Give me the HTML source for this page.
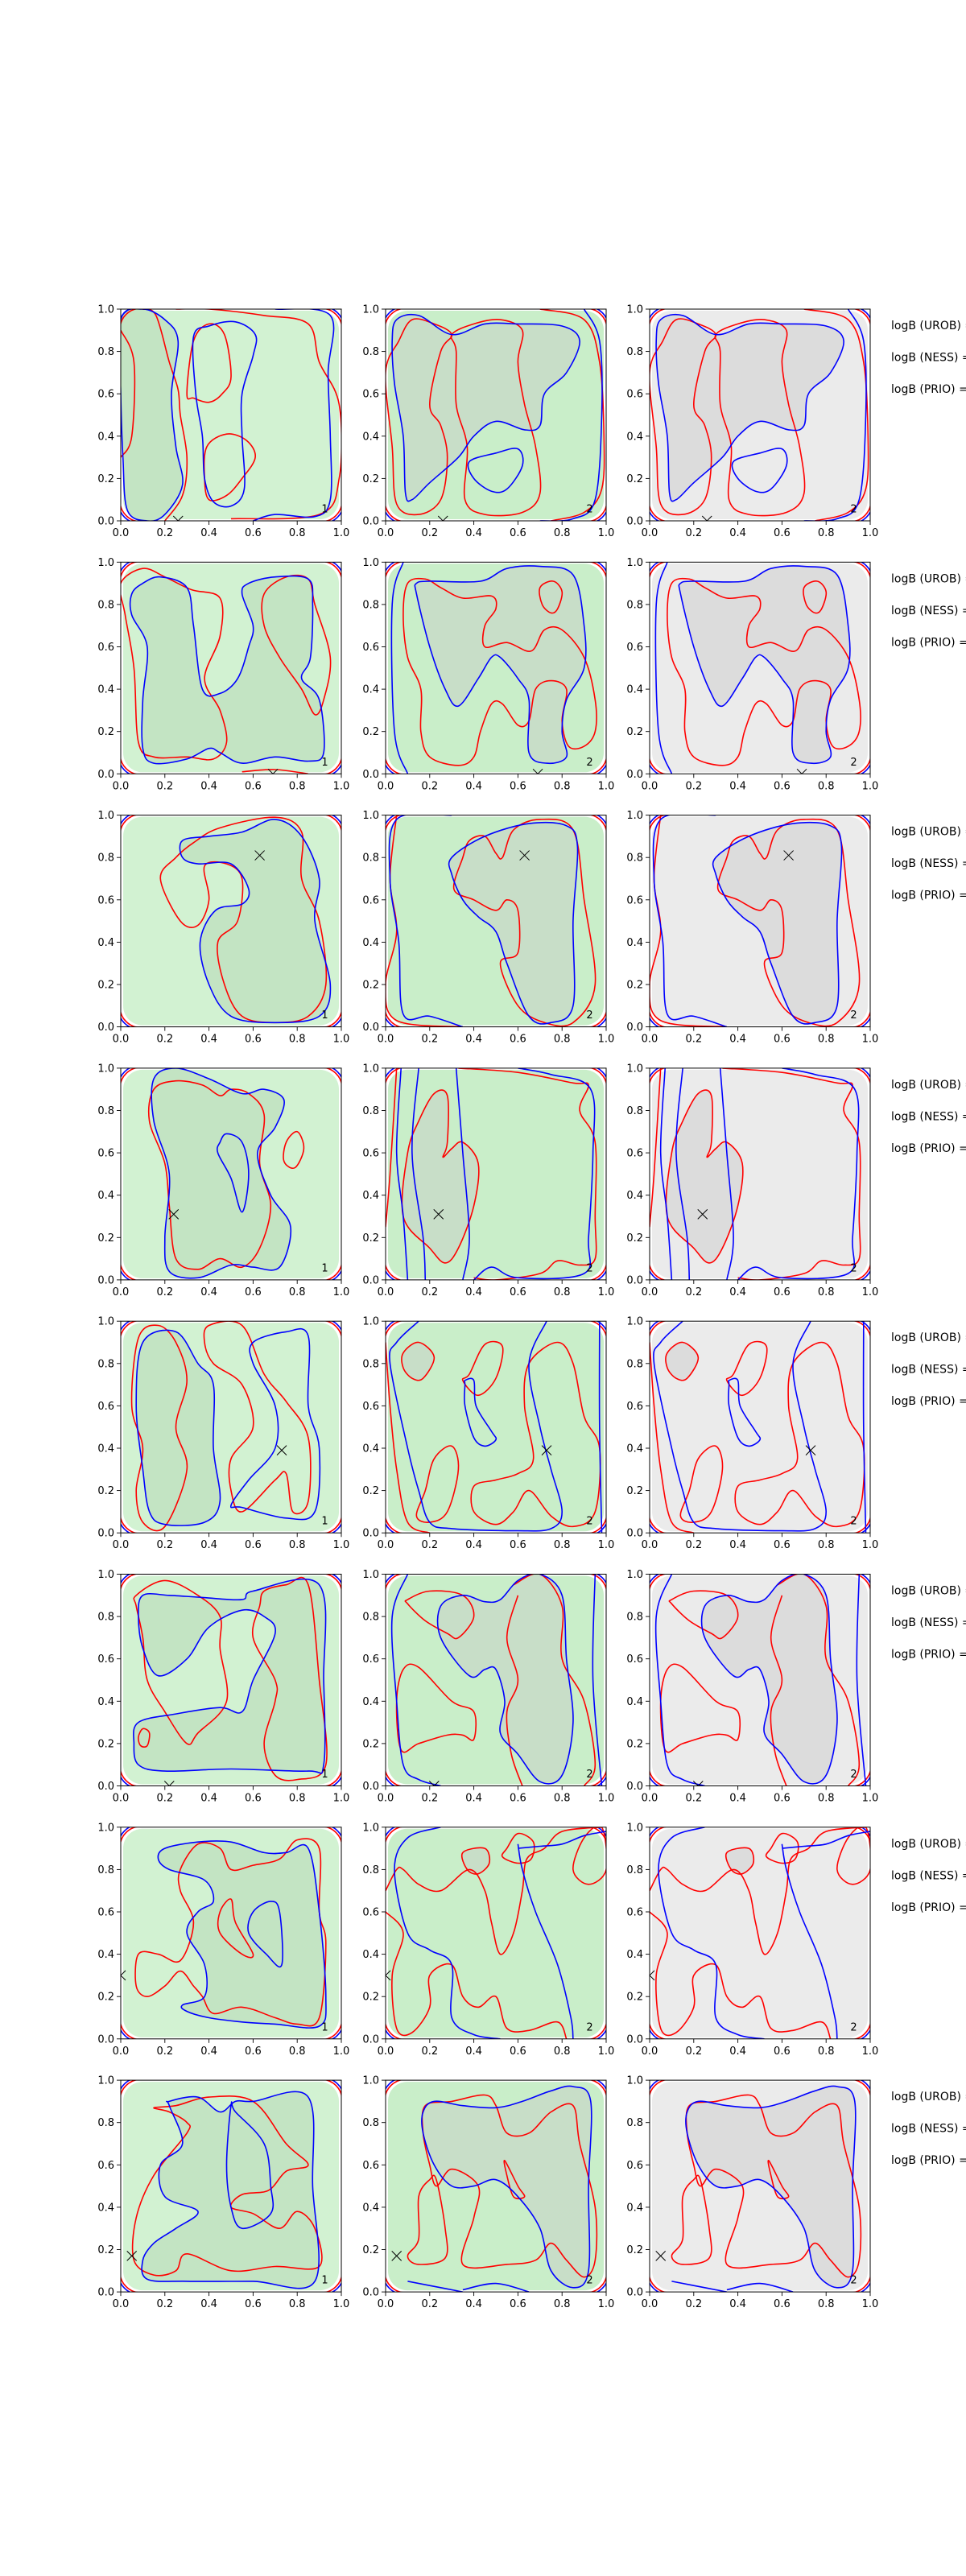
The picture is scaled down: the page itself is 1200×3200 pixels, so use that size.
<!DOCTYPE html>
<html><head><meta charset="utf-8"><style>
html,body{margin:0;padding:0;background:#fff;}
svg{display:block;font-family:"DejaVu Sans","Liberation Sans",sans-serif;}
</style></head><body>
<svg id="fig" width="1200" height="3200" viewBox="0 0 1200 3200" xmlns="http://www.w3.org/2000/svg"></svg>
<script>
// ---- data: contour loops per row, in data coords (0..1). 'o' = open, 'c' = closed ----
const c1Blue = [
 [['c',[0,0.95],[0.1,1],[0.2,0.95],[0.26,0.85],[0.23,0.6],[0.25,0.35],[0.28,0.17],[0.2,0.03],[0.12,0],[0.03,0.05],[0.01,0.3],[0,0.6]],
  ['c',[0.33,0.87],[0.4,0.92],[0.52,0.94],[0.61,0.88],[0.6,0.78],[0.55,0.6],[0.55,0.4],[0.56,0.15],[0.5,0.07],[0.42,0.09],[0.38,0.2],[0.37,0.4],[0.34,0.6]],
  ['o',[0.7,1],[0.95,0.97],[0.94,0.7],[0.95,0.4],[0.95,0.1],[0.88,0.02],[0.7,0.03],[0.6,0]]],
 [['c',[0.1,0.9],[0.18,0.93],[0.3,0.88],[0.33,0.7],[0.37,0.4],[0.45,0.38],[0.53,0.45],[0.58,0.6],[0.6,0.7],[0.55,0.85],[0.58,0.9],[0.7,0.93],[0.85,0.92],[0.87,0.8],[0.86,0.55],[0.82,0.45],[0.9,0.35],[0.92,0.1],[0.85,0.06],[0.7,0.08],[0.55,0.05],[0.45,0.1],[0.4,0.12],[0.3,0.07],[0.15,0.05],[0.1,0.12],[0.1,0.35],[0.12,0.6],[0.05,0.75],[0.05,0.85]]],
 [['c',[0.28,0.88],[0.4,0.9],[0.55,0.92],[0.7,0.98],[0.82,0.9],[0.9,0.7],[0.88,0.5],[0.95,0.2],[0.9,0.05],[0.7,0.02],[0.5,0.05],[0.4,0.2],[0.36,0.4],[0.43,0.55],[0.55,0.58],[0.58,0.65],[0.5,0.77],[0.35,0.77],[0.28,0.8]]],
 [['c',[0.15,0.95],[0.25,1],[0.4,0.95],[0.55,0.88],[0.65,0.9],[0.74,0.85],[0.7,0.72],[0.62,0.6],[0.68,0.4],[0.77,0.25],[0.72,0.06],[0.6,0.06],[0.5,0.07],[0.35,0.01],[0.22,0.04],[0.2,0.2],[0.22,0.5],[0.15,0.75]],
  ['c',[0.45,0.65],[0.48,0.69],[0.55,0.65],[0.58,0.5],[0.55,0.32],[0.5,0.48],[0.44,0.6]]],
 [['c',[0.1,0.9],[0.25,0.95],[0.35,0.8],[0.42,0.7],[0.42,0.4],[0.45,0.15],[0.38,0.05],[0.2,0.04],[0.13,0.1],[0.1,0.3],[0.07,0.6]],
  ['c',[0.6,0.9],[0.75,0.95],[0.85,0.93],[0.85,0.6],[0.9,0.4],[0.88,0.1],[0.75,0.07],[0.55,0.12],[0.5,0.13],[0.58,0.25],[0.7,0.4],[0.7,0.6],[0.6,0.8]]],
 [['c',[0.1,0.9],[0.22,0.9],[0.37,0.89],[0.55,0.88],[0.6,0.92],[0.9,0.95],[0.92,0.5],[0.92,0.1],[0.85,0.07],[0.5,0.08],[0.2,0.07],[0.08,0.1],[0.06,0.2],[0.08,0.3],[0.25,0.34],[0.45,0.37],[0.55,0.35],[0.6,0.5],[0.7,0.72],[0.65,0.8],[0.55,0.83],[0.4,0.75],[0.3,0.6],[0.17,0.52],[0.1,0.65],[0.08,0.8]]],
 [['c',[0.2,0.9],[0.35,0.93],[0.5,0.93],[0.65,0.88],[0.75,0.88],[0.85,0.9],[0.9,0.6],[0.93,0.2],[0.9,0.06],[0.7,0.07],[0.55,0.08],[0.4,0.1],[0.3,0.13],[0.28,0.16],[0.38,0.2],[0.38,0.35],[0.3,0.5],[0.35,0.6],[0.42,0.65],[0.38,0.75],[0.22,0.8],[0.17,0.85]],
  ['c',[0.6,0.6],[0.68,0.65],[0.72,0.6],[0.73,0.35],[0.66,0.4],[0.58,0.5]]],
 [['c',[0.22,0.9],[0.35,0.92],[0.45,0.85],[0.52,0.9],[0.6,0.9],[0.85,0.92],[0.87,0.5],[0.88,0.05],[0.6,0.05],[0.3,0.05],[0.12,0.06],[0.1,0.15],[0.15,0.23],[0.25,0.3],[0.35,0.38],[0.2,0.45],[0.18,0.6],[0.28,0.7],[0.22,0.88]],
  ['c',[0.5,0.88],[0.48,0.6],[0.5,0.4],[0.55,0.3],[0.68,0.37],[0.68,0.5],[0.65,0.7],[0.52,0.85]]]
];
const c1Red = [
 [['c',[0.3,0.6],[0.33,0.85],[0.4,0.93],[0.47,0.88],[0.5,0.68],[0.46,0.6],[0.4,0.56],[0.33,0.58]],
  ['c',[0.4,0.1],[0.48,0.12],[0.55,0.2],[0.61,0.3],[0.57,0.38],[0.48,0.41],[0.39,0.35],[0.38,0.2]],
  ['o',[0.2,0],[0.28,0.12],[0.3,0.3],[0.27,0.5],[0.26,0.62],[0.22,0.75],[0.16,0.97],[0.1,1]],
  ['o',[0,0.9],[0.06,0.75],[0.05,0.4],[0,0.3]],
  ['o',[0.25,1],[0.4,1],[0.65,0.97],[0.85,0.93],[0.9,0.75],[0.99,0.55],[0.99,0.2],[0.9,0.03],[0.5,0.01]]],
 [['c',[0,0.9],[0.1,0.97],[0.2,0.93],[0.32,0.87],[0.45,0.83],[0.45,0.65],[0.38,0.45],[0.45,0.3],[0.48,0.15],[0.42,0.07],[0.3,0.08],[0.15,0.08],[0.08,0.15],[0.06,0.5],[0.02,0.75]],
  ['c',[0.65,0.85],[0.75,0.93],[0.85,0.92],[0.88,0.8],[0.95,0.55],[0.92,0.35],[0.88,0.28],[0.82,0.4],[0.72,0.55],[0.65,0.7]],
  ['o',[0.55,0.01],[0.7,0.02],[0.85,0]]],
 [['c',[0.33,0.87],[0.45,0.94],[0.7,0.99],[0.82,0.92],[0.82,0.7],[0.9,0.5],[0.93,0.2],[0.85,0.05],[0.7,0.02],[0.55,0.05],[0.47,0.2],[0.44,0.4],[0.53,0.5],[0.55,0.7],[0.48,0.77],[0.38,0.76],[0.4,0.6],[0.35,0.48],[0.27,0.5],[0.18,0.7],[0.25,0.8]]],
 [['c',[0.15,0.9],[0.25,0.94],[0.37,0.92],[0.45,0.87],[0.5,0.9],[0.58,0.88],[0.65,0.78],[0.63,0.55],[0.68,0.35],[0.63,0.15],[0.55,0.06],[0.45,0.1],[0.35,0.05],[0.25,0.1],[0.22,0.35],[0.2,0.55],[0.13,0.75]],
  ['c',[0.75,0.65],[0.8,0.7],[0.83,0.62],[0.79,0.53],[0.74,0.56]]],
 [['c',[0.08,0.92],[0.17,0.98],[0.25,0.9],[0.3,0.72],[0.25,0.5],[0.3,0.3],[0.2,0.03],[0.1,0.05],[0.07,0.2],[0.1,0.4],[0.05,0.6]],
  ['c',[0.4,0.98],[0.55,0.98],[0.65,0.75],[0.75,0.62],[0.85,0.45],[0.85,0.15],[0.78,0.1],[0.75,0.28],[0.7,0.25],[0.55,0.1],[0.5,0.2],[0.5,0.35],[0.6,0.5],[0.55,0.7],[0.42,0.8],[0.38,0.9]]],
 [['c',[0.07,0.9],[0.2,0.97],[0.35,0.9],[0.45,0.8],[0.45,0.65],[0.48,0.4],[0.35,0.25],[0.3,0.2],[0.2,0.35],[0.12,0.5],[0.1,0.7],[0.07,0.85]],
  ['c',[0.65,0.92],[0.75,0.95],[0.85,0.95],[0.9,0.5],[0.93,0.1],[0.8,0.03],[0.7,0.05],[0.65,0.2],[0.7,0.4],[0.7,0.5],[0.6,0.7],[0.63,0.85]],
  ['c',[0.1,0.27],[0.13,0.25],[0.12,0.19],[0.09,0.19],[0.08,0.23]]],
 [['c',[0.27,0.8],[0.35,0.92],[0.45,0.9],[0.5,0.8],[0.6,0.82],[0.72,0.85],[0.8,0.94],[0.9,0.9],[0.9,0.6],[0.93,0.45],[0.9,0.1],[0.8,0.07],[0.7,0.1],[0.55,0.15],[0.42,0.12],[0.37,0.2],[0.33,0.25],[0.27,0.32],[0.2,0.25],[0.12,0.2],[0.07,0.25],[0.08,0.4],[0.17,0.4],[0.27,0.37],[0.33,0.55],[0.27,0.7]],
  ['c',[0.45,0.6],[0.5,0.66],[0.52,0.55],[0.6,0.4],[0.55,0.4],[0.45,0.5]]],
 [['c',[0.15,0.87],[0.25,0.88],[0.4,0.92],[0.6,0.9],[0.75,0.7],[0.85,0.6],[0.75,0.57],[0.67,0.48],[0.55,0.46],[0.5,0.4],[0.6,0.37],[0.72,0.3],[0.8,0.38],[0.88,0.3],[0.9,0.12],[0.7,0.12],[0.5,0.1],[0.3,0.18],[0.25,0.1],[0.15,0.08],[0.06,0.15],[0.07,0.35],[0.15,0.55],[0.3,0.75],[0.3,0.8],[0.22,0.85]]]
];
const c23Blue = [
 [['c',[0.05,0.95],[0.15,0.97],[0.3,0.88],[0.45,0.93],[0.6,0.93],[0.8,0.92],[0.88,0.85],[0.82,0.7],[0.72,0.6],[0.7,0.45],[0.63,0.43],[0.5,0.47],[0.4,0.4],[0.33,0.3],[0.2,0.18],[0.12,0.1],[0.09,0.13],[0.08,0.4],[0.04,0.65],[0.03,0.85]],
  ['c',[0.38,0.28],[0.5,0.32],[0.6,0.34],[0.62,0.26],[0.55,0.15],[0.48,0.14],[0.4,0.2]],
  ['o',[0.9,1],[0.97,0.85],[0.98,0.5],[0.95,0.1],[0.85,0.01],[0.7,0]]],
 [['c',[0.14,0.9],[0.2,0.91],[0.43,0.91],[0.55,0.97],[0.7,0.98],[0.85,0.94],[0.9,0.7],[0.9,0.5],[0.82,0.35],[0.8,0.2],[0.82,0.08],[0.73,0.05],[0.65,0.1],[0.65,0.35],[0.6,0.45],[0.52,0.55],[0.48,0.55],[0.42,0.45],[0.33,0.32],[0.27,0.4],[0.2,0.6],[0.14,0.85]],
  ['o',[0.08,1],[0.03,0.8],[0.04,0.2],[0.1,0]]],
 [['c',[0.3,0.8],[0.45,0.9],[0.65,0.96],[0.82,0.95],[0.87,0.85],[0.85,0.5],[0.85,0.1],[0.75,0.02],[0.65,0.05],[0.55,0.3],[0.5,0.45],[0.42,0.52],[0.35,0.6],[0.3,0.72]],
  ['o',[0.3,1],[0.05,0.98],[0.02,0.7],[0.06,0.4],[0.08,0.06],[0.2,0.05],[0.35,0]]],
 [['o',[0.07,1],[0.05,0.6],[0.08,0.3],[0.1,0]],['o',[0.15,1],[0.12,0.6],[0.17,0.2],[0.18,0]],['o',[0.32,1],[0.35,0.6],[0.38,0.2],[0.35,0]],
  ['o',[0.4,0],[0.48,0.06],[0.6,0.01],[0.9,0.03],[0.92,0.2],[0.94,0.6],[0.93,0.9],[0.75,0.97],[0.6,1]]],
 [['o',[0.15,1],[0.05,0.9],[0.02,0.8],[0.1,0.4],[0.15,0.2],[0.2,0.05],[0.3,0.02],[0.6,0.01],[0.75,0.02],[0.8,0.1],[0.75,0.3],[0.7,0.5],[0.65,0.8],[0.73,1]],
  ['c',[0.36,0.72],[0.4,0.72],[0.41,0.6],[0.48,0.48],[0.5,0.44],[0.45,0.41],[0.4,0.45],[0.36,0.6],[0.36,0.7]],
  ['o',[0.97,1],[0.97,0.5],[0.98,0]]],
 [['c',[0.25,0.85],[0.35,0.9],[0.45,0.87],[0.52,0.88],[0.6,0.97],[0.7,1],[0.8,0.9],[0.82,0.6],[0.85,0.3],[0.8,0.05],[0.7,0.02],[0.6,0.15],[0.52,0.25],[0.54,0.4],[0.5,0.55],[0.45,0.55],[0.38,0.52],[0.25,0.7]],
  ['o',[0.1,1],[0.03,0.8],[0.05,0.4],[0.08,0.1],[0.15,0.03],[0.25,0]],
  ['o',[0.95,1],[0.94,0.5],[0.98,0]]],
 [['o',[0.25,1],[0.1,0.95],[0.04,0.8],[0.1,0.5],[0.2,0.42],[0.3,0.35],[0.3,0.1],[0.4,0.02],[0.52,0]],
  ['o',[0.6,0.92],[0.62,0.8],[0.68,0.6],[0.78,0.35],[0.84,0.1],[0.85,0]],
  ['o',[0.6,0.9],[0.7,0.91],[0.8,0.92],[0.9,0.96],[1,0.98]]],
 [['c',[0.17,0.85],[0.22,0.9],[0.35,0.88],[0.5,0.87],[0.62,0.9],[0.75,0.95],[0.85,0.97],[0.93,0.9],[0.92,0.5],[0.92,0.1],[0.85,0.02],[0.75,0.1],[0.7,0.3],[0.6,0.45],[0.5,0.53],[0.4,0.5],[0.3,0.5],[0.22,0.6],[0.17,0.75]],
  ['o',[0.1,0.05],[0.2,0.03],[0.35,0]],['o',[0.35,0.01],[0.5,0.04],[0.65,0]]]
];
const c23Red = [
 [['c',[0.06,0.85],[0.12,0.95],[0.22,0.93],[0.3,0.88],[0.25,0.8],[0.2,0.55],[0.25,0.45],[0.28,0.3],[0.25,0.1],[0.15,0.03],[0.05,0.08],[0.03,0.35],[0.0,0.7]],
  ['c',[0.3,0.88],[0.4,0.93],[0.52,0.95],[0.62,0.9],[0.6,0.75],[0.63,0.55],[0.68,0.35],[0.7,0.13],[0.62,0.04],[0.45,0.03],[0.36,0.1],[0.37,0.35],[0.32,0.55],[0.32,0.8]],
  ['o',[0.7,1],[0.9,0.95],[0.97,0.75],[0.99,0.4],[0.98,0.15],[0.9,0.04],[0.75,0]]],
 [['c',[0.1,0.9],[0.18,0.92],[0.25,0.88],[0.35,0.83],[0.48,0.84],[0.5,0.78],[0.45,0.7],[0.45,0.6],[0.55,0.62],[0.66,0.58],[0.72,0.68],[0.8,0.68],[0.9,0.55],[0.95,0.35],[0.95,0.2],[0.9,0.13],[0.83,0.13],[0.8,0.25],[0.82,0.4],[0.75,0.44],[0.68,0.4],[0.65,0.25],[0.6,0.23],[0.53,0.33],[0.48,0.33],[0.43,0.2],[0.4,0.08],[0.33,0.04],[0.2,0.08],[0.16,0.2],[0.16,0.4],[0.1,0.55],[0.08,0.75]],
  ['c',[0.7,0.88],[0.76,0.91],[0.8,0.86],[0.78,0.78],[0.75,0.76],[0.71,0.8]]],
 [['c',[0.38,0.88],[0.45,0.9],[0.5,0.82],[0.53,0.8],[0.58,0.93],[0.7,0.98],[0.85,0.93],[0.9,0.6],[0.95,0.2],[0.85,0.02],[0.72,0.02],[0.6,0.1],[0.52,0.3],[0.6,0.35],[0.6,0.55],[0.55,0.6],[0.5,0.55],[0.4,0.6],[0.31,0.65],[0.35,0.8]],
  ['o',[0.05,1],[0.02,0.7],[0.05,0.45],[0,0.2],[0.05,0.03],[0.35,0]]],
 [['c',[0.22,0.88],[0.28,0.87],[0.28,0.65],[0.26,0.58],[0.3,0.62],[0.35,0.65],[0.42,0.55],[0.4,0.35],[0.33,0.15],[0.27,0.08],[0.2,0.15],[0.08,0.3],[0.1,0.6],[0.15,0.75]],
  ['o',[0.33,1],[0.6,0.98],[0.85,0.93],[0.92,0.92],[0.88,0.8],[0.95,0.65],[0.95,0.3],[0.95,0.1],[0.88,0.07],[0.78,0.09],[0.7,0.03],[0.5,0],[0.4,0.01]],
  ['o',[0.05,1],[0.02,0.5],[0,0.25]]],
 [['c',[0.08,0.85],[0.15,0.9],[0.22,0.83],[0.17,0.73],[0.12,0.73],[0.08,0.78]],
  ['c',[0.38,0.75],[0.45,0.89],[0.53,0.88],[0.5,0.73],[0.42,0.65],[0.35,0.72]],
  ['c',[0.65,0.8],[0.78,0.9],[0.85,0.8],[0.9,0.55],[0.97,0.4],[0.95,0.1],[0.85,0.03],[0.75,0.08],[0.65,0.2],[0.58,0.1],[0.5,0.04],[0.4,0.1],[0.4,0.22],[0.5,0.25],[0.6,0.28],[0.67,0.35],[0.63,0.6]],
  ['c',[0.2,0.05],[0.28,0.1],[0.33,0.3],[0.3,0.41],[0.22,0.35],[0.18,0.2],[0.14,0.08]],
  ['o',[0,0.9],[0.02,0.6],[0.05,0.3],[0.1,0.05],[0.2,0]]],
 [['c',[0.1,0.88],[0.2,0.92],[0.35,0.9],[0.4,0.8],[0.33,0.7],[0.28,0.72],[0.18,0.78],[0.1,0.86]],
  ['c',[0.08,0.55],[0.15,0.56],[0.3,0.4],[0.4,0.35],[0.4,0.22],[0.35,0.24],[0.28,0.24],[0.15,0.2],[0.07,0.17],[0.05,0.4]],
  ['o',[0.58,0.95],[0.7,1],[0.8,0.85],[0.8,0.6],[0.9,0.4],[0.95,0.1],[0.9,0]],
  ['o',[0.6,0.9],[0.55,0.7],[0.6,0.5],[0.55,0.35],[0.57,0.15],[0.62,0]]],
 [['c',[0.35,0.88],[0.45,0.9],[0.47,0.83],[0.42,0.78],[0.37,0.8]],
  ['c',[0.55,0.9],[0.6,0.97],[0.67,0.93],[0.66,0.85],[0.6,0.83],[0.53,0.86]],
  ['o',[0,0.7],[0.05,0.8],[0.08,0.8],[0.15,0.73],[0.25,0.7],[0.38,0.8],[0.45,0.7],[0.48,0.55],[0.52,0.4],[0.58,0.5],[0.62,0.7],[0.64,0.85],[0.72,0.9],[0.8,0.98],[0.98,1]],
  ['o',[0,0.6],[0.08,0.5],[0.03,0.3],[0.05,0.05],[0.12,0.03],[0.2,0.15],[0.2,0.3],[0.3,0.35],[0.35,0.2],[0.42,0.15],[0.5,0.2],[0.55,0.05],[0.65,0.04],[0.78,0.08],[0.82,0]],
  ['c',[0.9,0.95],[0.98,1],[1,0.8],[0.92,0.73],[0.85,0.8]]],
 [['c',[0.18,0.88],[0.3,0.9],[0.45,0.93],[0.5,0.88],[0.55,0.75],[0.65,0.75],[0.75,0.85],[0.85,0.88],[0.88,0.7],[0.95,0.4],[0.95,0.15],[0.9,0.07],[0.82,0.15],[0.75,0.23],[0.68,0.15],[0.55,0.13],[0.35,0.13],[0.4,0.35],[0.42,0.5],[0.3,0.58],[0.23,0.5],[0.2,0.6],[0.17,0.75]],
  ['c',[0.2,0.53],[0.23,0.53],[0.27,0.3],[0.27,0.16],[0.15,0.13],[0.1,0.17],[0.15,0.25],[0.15,0.45]],
  ['c',[0.54,0.62],[0.6,0.5],[0.63,0.45],[0.58,0.45],[0.55,0.55]]]
];
const markerX = [0.26,0.69,0.63,0.24,0.73,0.22,0.0,0.05];
const markerY = [0.0,0.0,0.81,0.31,0.39,0.0,0.3,0.17];
const ticks = [0,0.2,0.4,0.6,0.8,1.0];
const tickLabels = ["0.0","0.2","0.4","0.6","0.8","1.0"];
const logLabels = ["logB (UROB) =","logB (NESS) =","logB (PRIO) ="];
const panelNums = ["1","2","2"];

const NS="http://www.w3.org/2000/svg";
const fig=document.getElementById('fig');
const colX=[150,479,807], W=274, H=263, TOP0=384, PITCH=314.3;
const palette=[
 {base:'#d2f2d2',inner:'#c3e4c3',edge:'#a9d6a9'},
 {base:'#c9eec9',inner:'#c8dec8',edge:'#a9cfa9'},
 {base:'#ebebeb',inner:'#dcdcdc',edge:'#c6c6c6'}];
function el(t,a,p){const e=document.createElementNS(NS,t);for(const k in a)e.setAttribute(k,a[k]);(p||fig).appendChild(e);return e;}
function pathD(c,sx,sy){
 const closed=c[0]==='c';const P=c.slice(1).map(q=>[sx(q[0]),sy(q[1])]);const n=P.length;
 const g=i=>closed?P[(i+n)%n]:P[Math.max(0,Math.min(n-1,i))];
 let d='M'+P[0][0].toFixed(1)+','+P[0][1].toFixed(1);
 const m=closed?n:n-1;
 for(let i=0;i<m;i++){const p0=g(i-1),p1=g(i),p2=g(i+1),p3=g(i+2);
  d+=' C'+(p1[0]+(p2[0]-p0[0])/6).toFixed(1)+','+(p1[1]+(p2[1]-p0[1])/6).toFixed(1)+' '+(p2[0]-(p3[0]-p1[0])/6).toFixed(1)+','+(p2[1]-(p3[1]-p1[1])/6).toFixed(1)+' '+p2[0].toFixed(1)+','+p2[1].toFixed(1);}
 return d+(closed?' Z':'');
}
for(let r=0;r<8;r++){
 const top=TOP0+r*PITCH;
 for(let c=0;c<3;c++){
  const x0=colX[c];
  const sx=v=>x0+v*W, sy=v=>top+H-v*H;
  const g=el('g',{});
  
  
  const cid='clip'+r+'_'+c;
  const cp=el('clipPath',{id:cid},g);el('rect',{x:x0,y:top,width:W,height:H},cp);
  const inner=el('g',{'clip-path':'url(#'+cid+')'},g);
  const pal=palette[c];
  const base=el('rect',{x:x0+3,y:top+2,width:W-6,height:H-4,rx:24,ry:24,fill:pal.base},inner);
  
  
  const blues=c===0?c1Blue[r]:c23Blue[r];
  const reds=c===0?c1Red[r]:c23Red[r];
  const fc=blues[0][0]==='c'?blues[0]:reds[0];
  const fp=el('path',{d:pathD(fc,sx,sy),fill:pal.inner,stroke:pal.edge,'stroke-width':0.8},inner);
  
  
  // edge-hugging frame contours (only corners visible inside axes)
  el('rect',{x:x0-1,y:top-1,width:W+2,height:H+2,rx:26,ry:26,fill:'none',stroke:'#ff0000','stroke-width':1.6},inner);
  el('rect',{x:x0-3,y:top-3,width:W+6,height:H+6,rx:26,ry:26,fill:'none',stroke:'#0000ff','stroke-width':1.6},inner);
  reds.forEach(cv=>{const p=el('path',{d:pathD(cv,sx,sy),fill:'none',stroke:'#ff0000','stroke-width':1.6},inner);
   
   });
  blues.forEach(cv=>{const p=el('path',{d:pathD(cv,sx,sy),fill:'none',stroke:'#0000ff','stroke-width':1.6},inner);
   
   });
  const mx=sx(markerX[r]), my=sy(markerY[r]);
  const mk=el('path',{d:`M${mx-6},${my-6}L${mx+6},${my+6}M${mx-6},${my+6}L${mx+6},${my-6}`,stroke:'#000','stroke-width':1},inner);
  
  
  const nt=el('text',{x:sx(0.91),y:sy(0.04),'font-size':13,fill:'#000'},g);nt.textContent=panelNums[c];
  
  
  const fr=el('rect',{x:x0,y:top,width:W,height:H,fill:'none',stroke:'#000','stroke-width':1},g);
  
  
  ticks.forEach((t,i)=>{
   el('line',{x1:sx(t),x2:sx(t),y1:top+H,y2:top+H+5,stroke:'#000','stroke-width':0.9},g);
   const tx=el('text',{x:sx(t),y:top+H+19,'font-size':13,'text-anchor':'middle',fill:'#000'},g);tx.textContent=tickLabels[i];
   
   
   el('line',{x1:x0-5,x2:x0,y1:sy(t),y2:sy(t),stroke:'#000','stroke-width':0.9},g);
   const ty=el('text',{x:x0-8,y:sy(t)+4.5,'font-size':13,'text-anchor':'end',fill:'#000'},g);ty.textContent=tickLabels[i];
   
   
  });
 }
 logLabels.forEach((s,i)=>{const t=el('text',{x:1107,y:top+25+i*39.5,'font-size':14,fill:'#000'});t.textContent=s;
  
  });
}
</script>
</body></html>
